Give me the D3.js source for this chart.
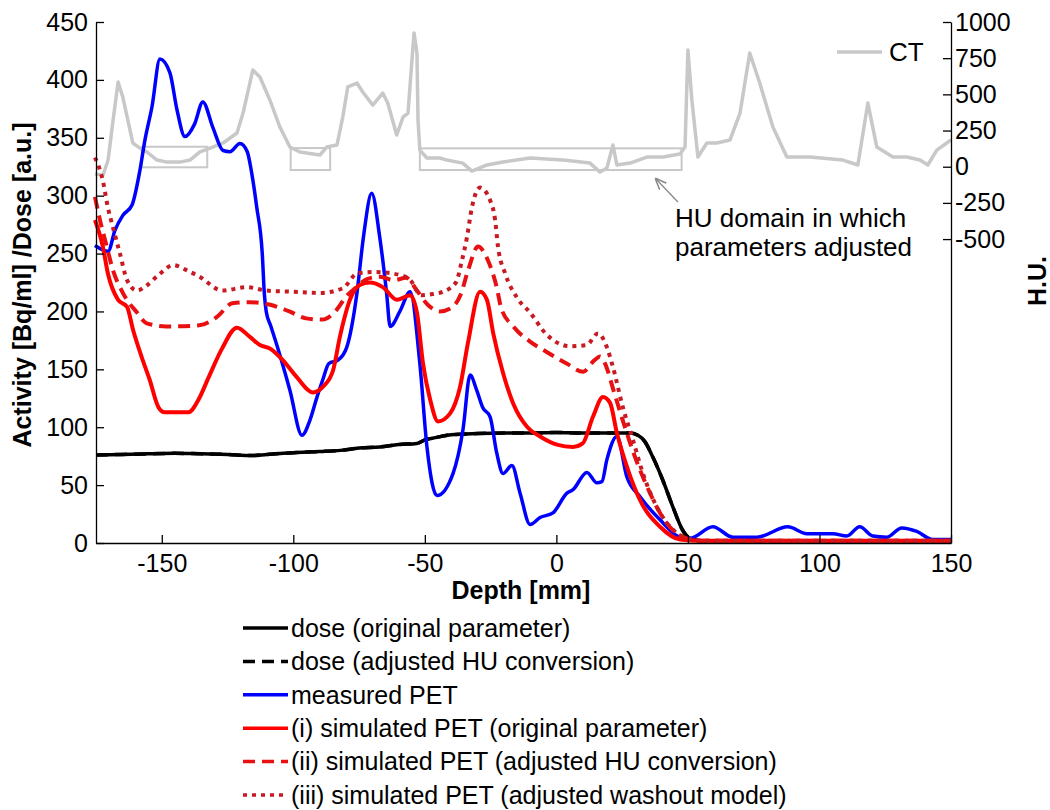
<!DOCTYPE html>
<html>
<head>
<meta charset="utf-8">
<script src="https://cdn.jsdelivr.net/npm/d3@7"></script>
<style>
  body { margin: 0; background: #fff; }
  svg { font-family: "Liberation Sans", Arial, sans-serif; }
  .axis path, .axis line { stroke: #000; stroke-width: 1.3; }
  .axis text { font-size: 25px; fill: #000; }
  .axis-label { font-size: 25px; font-weight: bold; }
  .legend text { font-size: 25px; fill: #000; }
  .note { font-size: 26px; fill: #000; }
</style>
</head>
<body>
<div id="chart-container"></div>
<script>
// Profiles along the beam, depth in mm
const depthTicks = [-150, -100, -50, 0, 50, 100, 150];
const activityTicks = [0, 50, 100, 150, 200, 250, 300, 350, 400, 450];
const huTicks = [-500, -250, 0, 250, 500, 750, 1000];

const doseOriginal = [[-175,76],[-165,76.5],[-155,77],[-145,77.5],[-135,77],[-125,76.5],[-116,75.5],[-110,76.5],
  [-100,78],[-90,79],[-82,80],[-75,82],[-67,83],[-60,85],[-53,86],[-50,89],[-46,91],[-40,93.5],[-30,94.5],
  [-20,95],[-10,95],[0,95.5],[10,95],[20,95],[28,95],[31,93],[33.5,88],[36.7,74],[40.5,54],[44.3,31],[48,11],
  [50.7,4],[55,2],[150,2]];
// both dose calculations lie on top of each other
const doseAdjusted = doseOriginal;

const measuredPet = [[-175.4,257],[-170.4,252],[-167.8,270],[-164.8,283],[-161.3,292],[-158.3,322],[-156.4,348],
  [-153.7,377],[-150.7,418],[-146.9,406],[-144.2,374],[-141.2,351],[-137.5,362],[-134.4,381],[-130.6,359],
  [-126.7,339],[-124.1,338],[-120.3,345],[-117.5,338],[-116,322],[-113.9,290],[-111.8,250],[-111,215],[-110.3,200],
  [-108.5,187],[-106,169],[-101.3,132],[-96.7,93],[-93.7,106],[-91,126],[-88.8,141],[-86.5,155],[-83,158],
  [-79.7,169],[-75.8,216],[-73.3,265],[-70.2,302],[-67.2,265],[-64.5,215],[-63.2,187],[-59.5,200],[-55.6,217],
  [-51.9,155],[-49.2,83],[-45.4,41],[-39.3,60],[-35.5,98],[-32.8,145],[-30.3,132],[-28,117],[-25.2,109],
  [-22.7,78],[-20.3,60],[-16.9,67],[-13.8,43],[-10,16],[-6.2,22],[-1.3,26],[4,43],[6.3,46],[11.6,61],[15.4,52],
  [17.3,53],[19.2,72],[23,92],[26.8,57],[31.8,40],[39.4,20],[47,5],[50.7,4],[59.5,14],[67.1,5],[76.2,5],[88,14],
  [95.2,8],[105.1,8],[110.4,6],[115.3,14],[120.3,6],[125.6,5],[131.3,13],[137,10],[143.1,3],[150,3]];

const simOriginal = [[-175.4,279],[-172.4,256],[-170.5,233],[-166.6,210],[-163.2,204],[-160.9,184],[-157.7,161],
  [-154.6,141],[-151.2,117],[-148.9,113],[-139.8,113],[-136,124],[-132.2,143],[-127.3,167],[-121.4,186],
  [-116.5,178],[-112.7,171],[-108.9,168],[-104,158],[-98.6,143],[-92.5,130],[-88.7,135],[-84.9,149],[-82.3,178],
  [-80.5,195],[-78.5,210],[-74.7,223],[-70.9,225],[-66,221],[-60.6,210],[-55.6,214],[-53,199],[-50.7,155],
  [-48,124],[-45,105],[-40.4,112],[-36.6,135],[-33.6,173],[-29,217],[-26.4,210],[-24,181],[-20.3,147],[-16.5,121],
  [-11,100],[-6.2,92],[0.2,85],[6.3,83],[10,86],[13.9,109],[17.7,126],[20.4,121],[23,95],[26.8,66],[31.8,37],
  [39.4,14],[47,3],[55,2],[150,2]];

const simHuAdjusted = [[-175.4,299],[-173.5,279],[-170.9,256],[-168.6,236],[-164.8,216],[-159.4,199],[-155.9,190],
  [-148.3,187],[-135.7,188],[-129.2,195],[-123.2,207],[-116.7,208],[-109.1,206],[-101.5,200],[-95.1,194],
  [-89,193],[-83.7,201],[-79.9,213],[-76,221],[-72,228],[-67,230],[-62,227],[-57,229],[-53,218],[-49,206],
  [-44.3,200],[-40,203],[-36.5,214],[-33.5,236],[-29.8,256],[-26,244],[-22.7,221],[-21,203],[-16.4,187],
  [-10,174],[-3.7,165],[3.9,155],[10.2,148],[14.5,158],[16.6,161],[18.5,155],[21.7,132],[25.5,104],[29.3,78],
  [34.6,48],[39.4,26],[44.3,11],[49.6,4],[55,2],[150,2]];

const simWashout = [[-175.4,333],[-172.4,313],[-170.5,290],[-168.6,273],[-165.9,250],[-163.2,227],[-159.4,218],
  [-156,222],[-151,232],[-145.7,240],[-140,235],[-135.7,230],[-126.9,218],[-117.8,221],[-110.1,218],[-100,217],
  [-90,216],[-81.2,220],[-75.6,233],[-69,234],[-58.6,231],[-55.5,227],[-51.4,214],[-47,215],[-43.1,217],
  [-38.2,225],[-35.9,244],[-34,264],[-32.1,290],[-29,307],[-25.2,296],[-23.3,279],[-22.2,256],[-19.5,233],
  [-15,212],[-10,199],[-3.7,180],[5.2,170],[11.5,171],[15.8,181],[19.2,169],[21.5,152],[25.3,117],[29.1,89],
  [32.9,60],[38.2,31],[43.2,14],[49.6,4],[55,2],[150,2]];

// CT profile in Hounsfield units (right axis)
const ctHu = [[-175.4,-50],[-172.3,-57],[-170.4,46],[-168.5,322],[-166.6,585],[-164.8,481],[-162.9,322],[-161,164],
  [-158.3,129],[-155.7,102],[-151.8,46],[-148,32],[-143.1,32],[-139.3,46],[-135.5,102],[-130.6,136],[-126.7,164],
  [-121.4,233],[-119.1,371],[-115.4,668],[-112.7,620],[-108.9,461],[-105.1,274],[-101.3,136],[-97.5,102],
  [-89.9,81],[-87.3,136],[-83.4,150],[-81.2,343],[-79.3,551],[-75.8,578],[-73.6,516],[-69.8,426],[-66,509],
  [-64.1,440],[-60.7,219],[-58.3,343],[-56.4,371],[-54.9,737],[-54.1,924],[-53,786],[-52.6,322],[-51.9,115],
  [-49.2,60],[-44.3,60],[-41.7,46],[-35.6,25],[-32.1,-30],[-26.4,12],[-20.3,32],[-10,60],[2.5,46],[12.8,25],
  [16.6,-37],[19.2,-9],[21.5,150],[23,12],[28,25],[34.4,67],[40.5,67],[47,88],[48.9,136],[50,806],[51.5,461],
  [53.8,67],[57.2,164],[61,164],[66,185],[69.8,371],[73.5,786],[77.3,578],[82.3,274],[87.6,67],[96.4,67],
  [108.9,46],[114.6,12],[118.4,440],[121.8,136],[127.9,67],[133.2,67],[138.2,46],[141.2,12],[144.6,115],
  [148.4,164],[150,185]];

// HU windows where the conversion was adjusted: [depth from, depth to, HU from, HU to]
const huBoxes = [[-157.6,-132.7,-4,138],[-101,-86,-23,129],[-51.9,47.6,-23,127]];
const arrowFrom = [46.2, -244];
const arrowTo = [37.5, -78];

const legendLabels = [
  "dose (original parameter)",
  "dose (adjusted HU conversion)",
  "measured PET",
  "(i) simulated PET (original parameter)",
  "(ii) simulated PET (adjusted HU conversion)",
  "(iii) simulated PET (adjusted washout model)"
];

//Visualisation
const margin = { top: 22, right: 99, bottom: 267, left: 96 };
const width = 1050 - margin.left - margin.right;
const height = 810 - margin.top - margin.bottom;

const svg = d3.select("#chart-container")
  .append("svg")
  .attr("width", 1050)
  .attr("height", 810);

const x = d3.scaleLinear().domain([-175, 150]).range([0, width]);
const y = d3.scaleLinear().domain([0, 450]).range([height, 0]);
const yHU = d3.scaleLinear().domain([-2600, 1000]).range([height, 0]);

// plain labels: hyphen minus, no thousands separator
const plain = d => String(d);

const g = svg.append("g").attr("transform", `translate(${margin.left},${margin.top})`);

// line styles, in drawing order
const styles = [
  { data: doseAdjusted, color: "#000", width: 3.5, dash: "12,7" },
  { data: doseOriginal, color: "#000", width: 3.5, dash: null },
  { data: measuredPet, color: "#0000ff", width: 3.5, dash: null },
  { data: simOriginal, color: "#ff0000", width: 4, dash: null },
  { data: simHuAdjusted, color: "#e81010", width: 4, dash: "12,7" },
  { data: simWashout, color: "#c81a22", width: 4, dash: "4,5" }
];
const legendStyles = [styles[1], styles[0], styles[2], styles[3], styles[4], styles[5]];

// CT on the right axis, drawn first so it stays behind
const ctLine = d3.line().x(d => x(d[0])).y(d => yHU(d[1]));
g.append("path")
  .datum(ctHu)
  .attr("fill", "none")
  .attr("stroke", "#c8c8c8")
  .attr("stroke-width", 3.5)
  .attr("stroke-linejoin", "round")
  .attr("d", ctLine);

g.selectAll(".hu-box")
  .data(huBoxes)
  .enter()
  .append("rect")
  .attr("class", "hu-box")
  .attr("x", d => x(d[0]))
  .attr("y", d => yHU(d[3]))
  .attr("width", d => x(d[1]) - x(d[0]))
  .attr("height", d => yHU(d[2]) - yHU(d[3]))
  .attr("fill", "none")
  .attr("stroke", "#c8c8c8")
  .attr("stroke-width", 2);

// profiles
const line = d3.line()
  .x(d => x(d[0]))
  .y(d => y(d[1]))
  .curve(d3.curveMonotoneX);

styles.forEach(s => {
  g.append("path")
    .datum(s.data)
    .attr("fill", "none")
    .attr("stroke", s.color)
    .attr("stroke-width", s.width)
    .attr("stroke-dasharray", s.dash)
    .attr("stroke-linejoin", "round")
    .attr("d", line);
});

// axes, ticks pointing inwards
g.append("g")
  .attr("class", "axis")
  .attr("transform", `translate(0,${height})`)
  .call(d3.axisBottom(x).tickValues(depthTicks).tickFormat(plain)
    .tickSizeInner(-8).tickSizeOuter(0).tickPadding(11));

g.append("g")
  .attr("class", "axis")
  .call(d3.axisLeft(y).tickValues(activityTicks).tickFormat(plain)
    .tickSizeInner(-8).tickSizeOuter(0).tickPadding(8));

g.append("g")
  .attr("class", "axis")
  .attr("transform", `translate(${width},0)`)
  .call(d3.axisRight(yHU).tickValues(huTicks).tickFormat(plain)
    .tickSizeInner(-8).tickSizeOuter(0).tickPadding(4));

svg.append("text")
  .attr("class", "axis-label")
  .attr("x", 521)
  .attr("y", 599)
  .attr("text-anchor", "middle")
  .text("Depth [mm]");

svg.append("text")
  .attr("class", "axis-label")
  .attr("transform", "translate(22,285) rotate(-90)")
  .attr("dy", "0.35em")
  .attr("text-anchor", "middle")
  .text("Activity [Bq/ml] /Dose [a.u.]");

svg.append("text")
  .attr("class", "axis-label")
  .attr("transform", "translate(1037,281) rotate(-90)")
  .attr("dy", "0.35em")
  .attr("text-anchor", "middle")
  .text("H.U.");

// CT legend entry
svg.append("line")
  .attr("x1", 837).attr("x2", 882).attr("y1", 52).attr("y2", 52)
  .attr("stroke", "#c8c8c8").attr("stroke-width", 3.5);
svg.append("text")
  .attr("class", "note")
  .attr("x", 889).attr("y", 61)
  .text("CT");

// note with arrow pointing at the HU window
svg.append("defs").append("marker")
  .attr("id", "head")
  .attr("viewBox", "0 0 10 10")
  .attr("refX", 10).attr("refY", 5)
  .attr("markerWidth", 9).attr("markerHeight", 9)
  .attr("orient", "auto")
  .append("path")
  .attr("d", "M0,1L10,5L0,9")
  .attr("fill", "none")
  .attr("stroke", "#888")
  .attr("stroke-width", 1.3);

g.append("line")
  .attr("x1", x(arrowFrom[0])).attr("y1", yHU(arrowFrom[1]))
  .attr("x2", x(arrowTo[0])).attr("y2", yHU(arrowTo[1]))
  .attr("stroke", "#888")
  .attr("stroke-width", 1.3)
  .attr("marker-end", "url(#head)");

const note = svg.append("text").attr("class", "note");
note.append("tspan").attr("x", 675).attr("y", 227).text("HU domain in which");
note.append("tspan").attr("x", 675).attr("y", 256).text("parameters adjusted");

// legend under the axes
const legend = svg.append("g")
  .attr("class", "legend")
  .attr("transform", "translate(243,628)");

const rows = legend.selectAll(".row")
  .data(legendLabels)
  .enter()
  .append("g")
  .attr("class", "row")
  .attr("transform", (d, i) => `translate(0,${i * 33.4})`);

rows.append("line")
  .attr("x1", 0).attr("x2", 45)
  .attr("stroke", (d, i) => legendStyles[i].color)
  .attr("stroke-width", 3.5)
  .attr("stroke-dasharray", (d, i) => legendStyles[i].dash);

rows.append("text")
  .attr("x", 48)
  .attr("dy", "0.35em")
  .text(d => d);
</script>
</body>
</html>
